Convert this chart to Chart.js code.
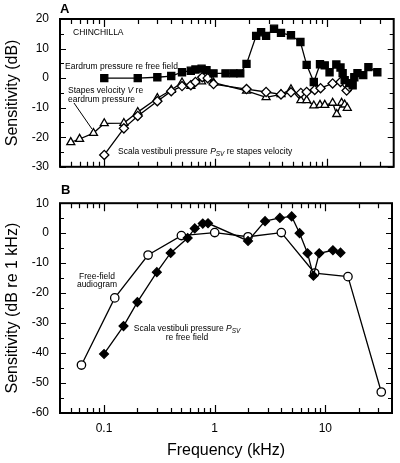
<!DOCTYPE html>
<html><head><meta charset="utf-8">
<script src="https://cdn.jsdelivr.net/npm/chart.js@4.4.1/dist/chart.umd.min.js"></script>
<style>
html,body{margin:0;padding:0;background:#fff;}
#cA{position:absolute;left:0;top:0;}
#cB{position:absolute;left:0;top:185px;}
</style></head><body>
<canvas id="cA" width="400" height="185"></canvas>
<canvas id="cB" width="400" height="278"></canvas>
<script>
// ---------- DATA ----------
// Panel A
const eardrumFreq = [0.1,0.2,0.3,0.4,0.5,0.6,0.66,0.75,0.83,0.96,1.23,1.45,1.67,1.9,2.32,2.57,2.85,3.36,3.88,4.77,5.8,6.6,7.65,8.7,9.6,10.6,12.2,13.3,13.9,14.5,16,17.1,17.7,18.9,21.3,23.7,28.5];
const eardrumDb   = [0,0,0.3,0.7,2,2.5,2.9,3.2,2.7,1.6,1.6,1.6,1.6,4.8,14.3,15.5,14.3,16.7,15.3,14.5,12.2,4.5,-1.3,4.7,4.3,2,4.6,3.6,1.7,-0.7,-1.7,-2.4,0.3,1.7,1,3.7,2];

const stapesFreq = [0.05,0.06,0.08,0.1,0.15,0.2,0.3,0.4,0.5,0.6,0.75,0.85,0.96,1.9,2.85,3.88,4.77,5.85,6.6,7.65,8.7,9.6,11.3,12.3,13.6,14.5,15.3];
const stapesDb   = [-21.7,-20.6,-18.6,-15.3,-15.2,-11.5,-6.8,-4,-1.5,-2.7,-1.2,0,-1.5,-4.3,-6.5,-5.5,-3.8,-7.5,-7.5,-9.3,-9.1,-9.1,-8.4,-12.2,-8.4,-9,-10.1];

const svStapesFreq = [0.1,0.15,0.2,0.3,0.4,0.5,0.6,0.66,0.76,0.85,0.96,1.9,2.85,3.88,4.77,5.85,6.6,7.8,8.8,11.3,13.3,15.1,16];
const svStapesDb   = [-26,-17,-12.8,-7.8,-4.4,-2.7,-2.4,-1.3,0.3,0,-2,-3.7,-4.7,-5.5,-4.8,-5,-4.7,-4,-3.4,-1.8,-1.3,-4.2,-3];

// Panel B
const audioFreq = [0.0625,0.125,0.25,0.5,1,2,4,8,16,32];
const audioDb   = [-44,-21.6,-7.3,-0.8,0.2,-1.2,0.2,-13.3,-14.5,-53];

const svFieldFreq = [0.1,0.15,0.2,0.3,0.4,0.57,0.66,0.78,0.87,2,2.85,3.88,4.96,5.85,6.9,7.8,8.8,11.7,13.7];
const svFieldDb   = [-40.3,-31,-23,-13,-6.6,-1.6,1.6,3.2,3.3,-2.6,4,5.1,5.6,0,-6.7,-14.2,-6.7,-5.7,-6.5];

// Axes
const xTickValues = [0.1,1,10];
const xTickLabels = ['0.1','1','10'];
const yTicksA = [-30,-20,-10,0,10,20];
const yTicksB = [-60,-50,-40,-30,-20,-10,0,10];

// ---------- STYLE / HELPERS ----------
const FONT = "'Liberation Sans', Arial, Helvetica, sans-serif";
Chart.defaults.font.family = FONT;
Chart.defaults.color = '#000';

const pts = (xs, ys) => xs.map((x, i) => ({x, y: ys[i]}));

function series(xs, ys, style, fill, r) {
  return {
    data: pts(xs, ys), showLine: true, tension: 0,
    borderColor: '#000', borderWidth: 1.3,
    pointStyle: style, pointRadius: r, pointHoverRadius: r,
    pointBackgroundColor: fill, pointBorderColor: '#000', pointBorderWidth: 1.3
  };
}

function xScale(showLabels, height) {
  return {
    type: 'logarithmic', min: 0.04, max: 40,
    grid: {display: false, drawTicks: false}, border: {display: false},
    ticks: {
      display: showLabels, autoSkip: false, maxRotation: 0, minRotation: 0, padding: 8,
      color: '#000', font: {family: FONT, size: 12},
      callback: (v) => {
        for (let i = 0; i < xTickValues.length; i++) {
          if (Math.abs(v - xTickValues[i]) < 1e-9 * xTickValues[i] + 1e-12) return xTickLabels[i];
        }
        return '';
      }
    },
    title: {display: showLabels, text: 'Frequency (kHz)', color: '#000',
            font: {family: FONT, size: 16}, padding: {top: 0, bottom: 3}},
    afterFit: s => { s.height = height; }
  };
}

function yScale(min, max, ticksArr, title) {
  return {
    type: 'linear', min, max,
    grid: {display: false, drawTicks: false}, border: {display: false},
    afterBuildTicks: s => { s.ticks = ticksArr.map(v => ({value: v})); },
    ticks: {padding: 11, color: '#000', font: {family: FONT, size: 12}},
    title: {display: true, text: title, color: '#000',
            font: {family: FONT, size: 16}, padding: {top: 3, bottom: 0}},
    afterFit: s => { s.width = 60; }
  };
}

const frameTicks = {
  id: 'frameTicks',
  afterDatasetsDraw(chart) {
    const {ctx, chartArea: a, scales: {x, y}} = chart;
    ctx.save();
    ctx.strokeStyle = '#000';
    ctx.lineWidth = 1.2;
    ctx.beginPath();
    for (let v = y.min; v <= y.max + 1e-9; v += 5) {
      const py = Math.round(y.getPixelForValue(v)) + 0.5;
      const len = (Math.abs(v % 10) < 1e-9) ? 6 : 4;
      ctx.moveTo(a.left, py); ctx.lineTo(a.left + len, py);
      ctx.moveTo(a.right, py); ctx.lineTo(a.right - len, py);
    }
    for (let e = -2; e <= 1; e++) {
      for (let m = 1; m <= 9; m++) {
        const v = m * Math.pow(10, e);
        if (v < x.min * 1.0001 || v > x.max * 0.9999) continue;
        const px = Math.round(x.getPixelForValue(v)) + 0.5;
        const len = m === 1 ? 8 : 5;
        ctx.moveTo(px, a.top); ctx.lineTo(px, a.top + len);
        ctx.moveTo(px, a.bottom); ctx.lineTo(px, a.bottom - len);
      }
    }
    ctx.stroke();
    ctx.lineWidth = 2;
    ctx.strokeRect(a.left, a.top, a.right - a.left, a.bottom - a.top);
    ctx.restore();
  }
};

// rich text: segments [{t, it, sub}]
function drawRich(ctx, x, y, segs, align, size) {
  const fontFor = s => (s.it ? 'italic ' : '') + (s.sub ? (size * 0.75) : size) + 'px ' + FONT;
  let total = 0;
  segs.forEach(s => { ctx.font = fontFor(s); total += ctx.measureText(s.t).width; });
  let cx = align === 'center' ? x - total / 2 : x;
  ctx.textAlign = 'left';
  ctx.textBaseline = 'middle';
  segs.forEach(s => {
    ctx.font = fontFor(s);
    ctx.fillText(s.t, cx, s.sub ? y + size * 0.3 : y);
    cx += ctx.measureText(s.t).width;
  });
}

function annotations(list, lines) {
  return {
    id: 'annot',
    afterDraw(chart) {
      const ctx = chart.ctx;
      ctx.save();
      ctx.fillStyle = '#000';
      list.forEach(a => {
        if (a.bold) {
          ctx.font = 'bold ' + a.size + 'px ' + FONT;
          ctx.textAlign = 'left'; ctx.textBaseline = 'middle';
          ctx.fillText(a.segs[0].t, a.x, a.y);
        } else {
          drawRich(ctx, a.x, a.y, a.segs, a.align || 'left', a.size);
        }
      });
      ctx.strokeStyle = '#000';
      ctx.lineWidth = 1;
      (lines || []).forEach(l => {
        ctx.beginPath(); ctx.moveTo(l[0], l[1]); ctx.lineTo(l[2], l[3]); ctx.stroke();
      });
      ctx.restore();
    }
  };
}

const baseOpts = {
  responsive: false, animation: false, devicePixelRatio: 1,
  plugins: {legend: {display: false}, tooltip: {enabled: false}},
  events: []
};

// ---------- PANEL A ----------
const AS = 8.5;
new Chart(document.getElementById('cA'), {
  type: 'scatter',
  data: {datasets: [
    series(eardrumFreq, eardrumDb, 'rect', '#000', 5),
    series(svStapesFreq, svStapesDb, 'rectRot', '#fff', 4.6),
    series(stapesFreq, stapesDb, 'triangle', '#fff', 4.6)
  ]},
  options: Object.assign({}, baseOpts, {
    layout: {padding: {top: 19, right: 5, left: 0, bottom: 0}},
    scales: {x: xScale(false, 18), y: yScale(-30, 20, yTicksA, 'Sensitivity (dB)')}
  }),
  plugins: [frameTicks, annotations([
    {x: 60, y: 9, bold: true, size: 13, segs: [{t: 'A'}]},
    {x: 73, y: 33, size: AS, segs: [{t: 'CHINCHILLA'}]},
    {x: 65, y: 66.5, size: AS, segs: [{t: 'Eardrum pressure re free field'}]},
    {x: 68, y: 91, size: AS, segs: [{t: 'Stapes velocity '}, {t: 'V', it: true}, {t: ' re'}]},
    {x: 68, y: 99.5, size: AS, segs: [{t: 'eardrum pressure'}]},
    {x: 118, y: 152, size: AS, segs: [{t: 'Scala vestibuli pressure '}, {t: 'P', it: true}, {t: 'SV', it: true, sub: true}, {t: ' re stapes velocity'}]}
  ], [[74, 103, 92, 129]])]
});

// ---------- PANEL B ----------
const OB = 185;
new Chart(document.getElementById('cB'), {
  type: 'scatter',
  data: {datasets: [
    series(svFieldFreq, svFieldDb, 'rectRot', '#000', 4.4),
    series(audioFreq, audioDb, 'circle', '#fff', 4.2)
  ]},
  options: Object.assign({}, baseOpts, {
    layout: {padding: {top: 16, right: 5, left: 0, bottom: 0}},
    scales: {x: xScale(true, 50), y: yScale(-60, 10, yTicksB, 'Sensitivity (dB re 1 kHz)')}
  }),
  plugins: [frameTicks, annotations([
    {x: 61, y: 190 - OB, bold: true, size: 13, segs: [{t: 'B'}]},
    {x: 97, y: 277 - OB, align: 'center', size: AS, segs: [{t: 'Free-field'}]},
    {x: 97, y: 285 - OB, align: 'center', size: AS, segs: [{t: 'audiogram'}]},
    {x: 187, y: 329 - OB, align: 'center', size: AS, segs: [{t: 'Scala vestibuli pressure '}, {t: 'P', it: true}, {t: 'SV', it: true, sub: true}]},
    {x: 187, y: 338 - OB, align: 'center', size: AS, segs: [{t: 're free field'}]}
  ])]
});
</script>
</body></html>
